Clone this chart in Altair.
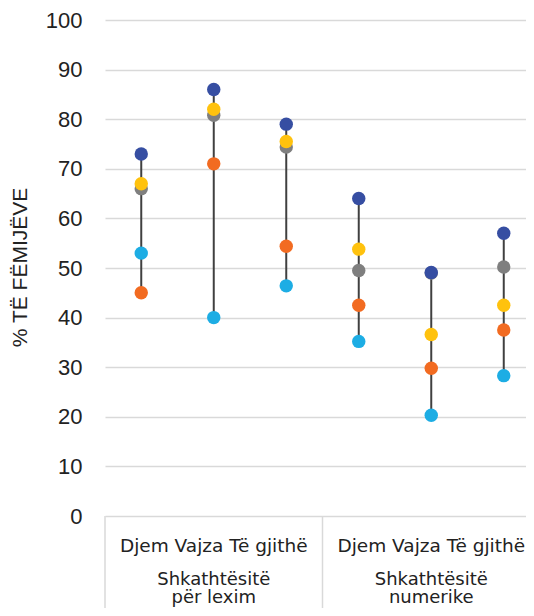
import altair as alt
import pandas as pd

# ---- data ----
ids = ["lex_djem", "lex_vajza", "lex_te", "num_djem", "num_vajza", "num_te"]
sub_label_text = "Djem Vajza Të gjithë"
group_ids = ["lex_vajza", "num_vajza"]
group_labels = ["Shkathtësitë\npër lexim", "Shkathtësitë\nnumerike"]
separator_ids = ["lex_djem", "num_djem"]

series_names = ["Seria 3", "Seria 2", "Seria 1", "Seria 4", "Seria 5"]
series_colors = ["#7F7F7F", "#F26B21", "#1DADE4", "#FFC20E", "#364EA2"]

gray_vals = [66.0, 80.8, 74.4, 49.5, 49.0, 50.2]
orange_vals = [45.0, 71.0, 54.4, 42.5, 29.8, 37.5]
lightblue_vals = [53.0, 40.0, 46.4, 35.2, 20.3, 28.3]
yellow_vals = [67.0, 82.0, 75.5, 53.8, 36.6, 42.5]
blue_vals = [73.0, 86.0, 79.0, 64.0, 49.1, 57.0]

y_ticks = list(range(0, 101, 10))

all_vals = [gray_vals, orange_vals, lightblue_vals, yellow_vals, blue_vals]
rows = []
for k, (name, vals) in enumerate(zip(series_names, all_vals)):
    for i, v in zip(ids, vals):
        rows.append({"id": i, "series": name, "value": v, "ord": k})
df = pd.DataFrame(rows)

sub_df = pd.DataFrame({"id": group_ids, "text": [sub_label_text] * 2})
grp_df = pd.DataFrame({"id": group_ids, "text": group_labels})
sep_df = pd.DataFrame({"id": separator_ids})

W, H = 421, 496
FONT = "Liberation Sans"
FONT2 = "DejaVu Sans"

xscale = alt.Scale(domain=ids, range=[0, 435], paddingInner=0, paddingOuter=0)

base_x = alt.X("id:N", scale=xscale, axis=None)

rules = alt.Chart(df).mark_rule(color="#404040", strokeWidth=2).encode(
    x=base_x,
    y=alt.Y("min(value):Q"),
    y2=alt.Y2("max(value):Q"),
)

points = alt.Chart(df).mark_circle(size=180, opacity=1).encode(
    x=base_x,
    y=alt.Y(
        "value:Q",
        scale=alt.Scale(domain=[0, 100], nice=False),
        axis=alt.Axis(
            values=y_ticks,
            title="% TË FËMIJËVE",
            titleFontSize=21,
            titleFontWeight="normal",
            titleFont=FONT,
            titleColor="#222222",
            titleX=-85,
            titleY=247,
            titleAlign="center",
            titleBaseline="middle",
            labelFontSize=22,
            labelFont=FONT,
            labelColor="#222222",
            labelPadding=23,
            tickSize=0,
            ticks=False,
            domain=False,
            grid=True,
            gridColor="#D9D9D9",
            gridWidth=1.5,
        ),
    ),
    color=alt.Color(
        "series:N",
        scale=alt.Scale(domain=series_names, range=series_colors),
        legend=None,
    ),
    order=alt.Order("ord:Q"),
)

seps = alt.Chart(sep_df).mark_rule(color="#D9D9D9", strokeWidth=1.5).encode(
    x=alt.X("id:N", scale=xscale, axis=None, bandPosition=0),
    y=alt.value(H),
    y2=alt.value(H + 92),
)

sub_text = alt.Chart(sub_df).mark_text(
    font=FONT2, fontSize=18.5, color="#222222", baseline="alphabetic", align="center"
).encode(
    x=base_x,
    y=alt.value(532),
    text="text:N",
)

grp_text = alt.Chart(grp_df).mark_text(
    font=FONT2, fontSize=18, color="#222222", baseline="alphabetic", align="center",
    lineBreak="\n", lineHeight=18,
).encode(
    x=base_x,
    y=alt.value(565),
    text="text:N",
)

chart = alt.layer(rules, points, seps, sub_text, grp_text).properties(
    width=W,
    height=H,
    autosize=alt.AutoSizeParams(type="none"),
    padding={"left": 97, "top": 12, "right": 0, "bottom": 92},
).configure_view(stroke=None)

chart.save("out.html", embed_options={"renderer": "svg", "actions": False})
